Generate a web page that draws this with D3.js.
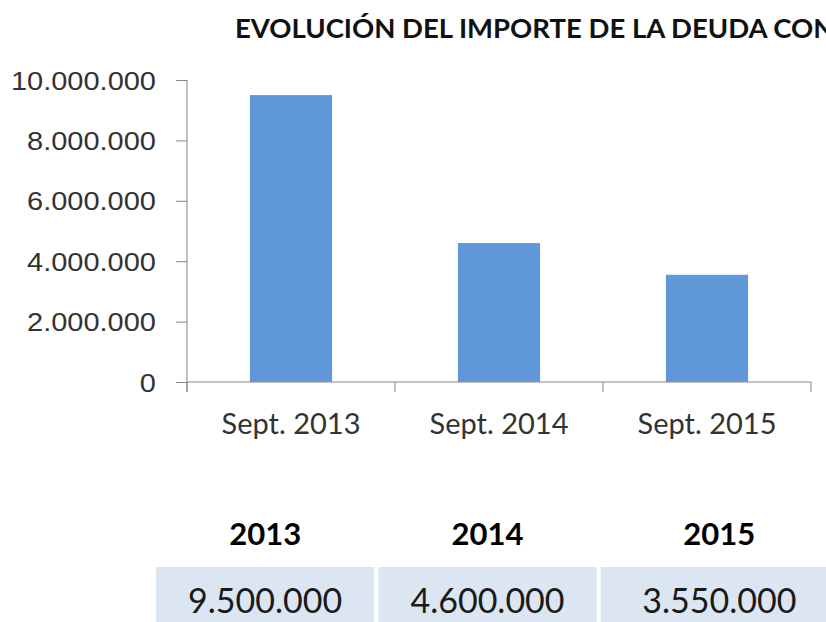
<!DOCTYPE html>
<html>
<head>
<meta charset="utf-8">
<script src="https://cdn.jsdelivr.net/npm/d3@7"></script>
<style>
  html, body { margin: 0; padding: 0; background: #fff; overflow: hidden; }
  svg { display: block; }
</style>
</head>
<body>
<div id="chart"></div>
<script>
// data
const categories = ['Sept. 2013', 'Sept. 2014', 'Sept. 2015'];
const values = [9500000, 4600000, 3550000];
const years = ['2013', '2014', '2015'];
const yTicks = [0, 2000000, 4000000, 6000000, 8000000, 10000000];
const title = 'EVOLUCIÓN DEL IMPORTE DE LA DEUDA CON';

const width = 826, height = 622;
const margin = { top: 80, left: 187, right: 15, bottom: 240 };

// thousands with dots, Spanish style
const fmt = d3.formatLocale({ decimal: ',', thousands: '.', grouping: [3], currency: ['', ' €'] }).format(',d');

const svg = d3.select('#chart').append('svg')
  .attr('width', width)
  .attr('height', height);

const x = d3.scaleBand()
  .domain(categories)
  .range([margin.left, width - margin.right])
  .padding(0);

const y = d3.scaleLinear()
  .domain([0, 10000000])
  .range([height - margin.bottom, margin.top]);

// title (cut off at the right edge, as in the source)
svg.append('text')
  .attr('x', 235)
  .attr('y', 38)
  .style('font-family', 'Lato, sans-serif')
  .style('font-weight', 'bold')
  .style('font-size', '27.5px')
  .style('fill', '#111')
  .text(title);

// y axis
const yAxis = svg.append('g')
  .attr('transform', `translate(${margin.left},0)`)
  .call(d3.axisLeft(y).tickValues(yTicks).tickFormat(fmt).tickSize(11).tickPadding(0));
yAxis.select('.domain').attr('d', `M0,${y(10000000)}V${y(0) + 10}`);
yAxis.selectAll('line, path').attr('stroke', '#868686');
yAxis.selectAll('text')
  .attr('x', null)
  .attr('dy', '0.36em')
  .attr('transform', 'translate(-31,0) scale(1.16,1)')
  .style('font-family', '"Liberation Sans", Arial, sans-serif')
  .style('font-size', '25px')
  .style('fill', '#333');

// x axis
const xAxis = svg.append('g')
  .attr('transform', `translate(0,${y(0)})`)
  .call(d3.axisBottom(x).tickSize(0).tickPadding(0));
xAxis.select('.domain').attr('d', `M${margin.left},0H${width - margin.right}`).attr('stroke', '#868686');
xAxis.selectAll('.tick text')
  .attr('y', 52)
  .attr('dy', 0)
  .style('font-family', 'Lato, sans-serif')
  .style('font-size', '29px')
  .style('fill', '#333');

// category boundary ticks
const bounds = categories.map(c => x(c)).concat([x(categories[categories.length - 1]) + x.bandwidth()]);
xAxis.selectAll('.bound')
  .data(bounds)
  .join('line')
  .attr('class', 'bound')
  .attr('x1', d => d).attr('x2', d => d)
  .attr('y1', 0).attr('y2', 10)
  .attr('stroke', '#868686');

// bars
const barW = x.bandwidth() * 0.395;
svg.selectAll('.bar')
  .data(values)
  .join('rect')
  .attr('class', 'bar')
  .attr('x', (d, i) => x(categories[i]) + (x.bandwidth() - barW) / 2)
  .attr('y', d => y(d))
  .attr('width', barW)
  .attr('height', d => y(0) - y(d))
  .attr('fill', '#6097d8');

// table below
const col = d3.scaleBand()
  .domain(years)
  .range([156, 819])
  .paddingInner(0.018);

const cellW = (d, i) => i === years.length - 1 ? col.bandwidth() + 19 : col.bandwidth();

svg.selectAll('.cell')
  .data(years)
  .join('rect')
  .attr('class', 'cell')
  .attr('x', d => col(d))
  .attr('y', 567)
  .attr('width', cellW)
  .attr('height', 60)
  .attr('fill', '#dce6f2');

svg.selectAll('.year')
  .data(years)
  .join('text')
  .attr('class', 'year')
  .attr('x', (d, i) => col(d) + cellW(d, i) / 2)
  .attr('y', 545)
  .attr('text-anchor', 'middle')
  .style('font-family', 'Lato, sans-serif')
  .style('font-weight', 'bold')
  .style('font-size', '31px')
  .style('fill', '#000')
  .text(d => d);

svg.selectAll('.val')
  .data(values)
  .join('text')
  .attr('class', 'val')
  .attr('x', (d, i) => col(years[i]) + cellW(years[i], i) / 2)
  .attr('y', 613)
  .attr('text-anchor', 'middle')
  .style('font-family', 'Lato, sans-serif')
  .style('font-size', '34px')
  .style('fill', '#1a1a1a')
  .text(d => fmt(d));
</script>
</body>
</html>
